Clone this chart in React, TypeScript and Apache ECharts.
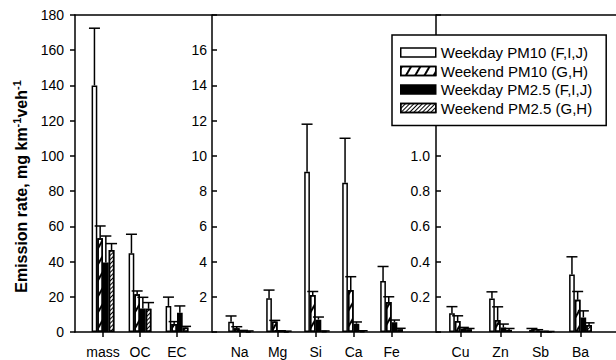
import React, { useEffect, useRef } from 'react';
import * as echarts from 'echarts';

// ---------- data ----------
const seriesNames = [
  'Weekday PM10 (F,I,J)',
  'Weekend PM10 (G,H)',
  'Weekday PM2.5 (F,I,J)',
  'Weekend PM2.5 (G,H)',
];

// Panel 1: bulk species
const catsBulk = ['mass', 'OC', 'EC'];
const bulkWdPm10 = [140, 44.7, 14.8];
const bulkWdPm10Err = [32.5, 10.8, 5.0];
const bulkWePm10 = [53.2, 21.5, 4.5];
const bulkWePm10Err = [7.0, 1.8, 1.4];
const bulkWdPm25 = [39.5, 13.4, 11.0];
const bulkWdPm25Err = [15.0, 6.3, 3.8];
const bulkWePm25 = [46.5, 13.2, 2.6];
const bulkWePm25Err = [3.7, 3.5, 0.6];

// Panel 2: crustal elements
const catsCrust = ['Na', 'Mg', 'Si', 'Ca', 'Fe'];
const crustWdPm10 = [0.58, 1.91, 9.1, 8.48, 2.9];
const crustWdPm10Err = [0.33, 0.47, 2.7, 2.52, 0.82];
const crustWePm10 = [0.22, 0.6, 2.1, 2.38, 1.7];
const crustWePm10Err = [0.08, 0.06, 0.2, 0.76, 0.3];
const crustWdPm25 = [0.06, 0.05, 0.7, 0.47, 0.55];
const crustWdPm25Err = [0.03, 0.02, 0.15, 0.1, 0.13];
const crustWePm25 = [0.04, 0.04, 0.05, 0.06, 0.15];
const crustWePm25Err = [0.02, 0.01, 0.01, 0.01, 0.06];

// Panel 3: trace metals
const catsTrace = ['Cu', 'Zn', 'Sb', 'Ba'];
const traceWdPm10 = [0.107, 0.19, 0.012, 0.327];
const traceWdPm10Err = [0.037, 0.038, 0.008, 0.1];
const traceWePm10 = [0.062, 0.068, 0.008, 0.183];
const traceWePm10Err = [0.03, 0.075, 0.005, 0.047];
const traceWdPm25 = [0.02, 0.025, 0.003, 0.083];
const traceWdPm25Err = [0.006, 0.02, 0.001, 0.037];
const traceWePm25 = [0.015, 0.012, 0.002, 0.04];
const traceWePm25Err = [0.005, 0.008, 0.001, 0.012];

// y-axis ranges
const bulkAxis = { min: 0, max: 180, interval: 20 };
const crustAxis = { min: 0, max: 18, interval: 2 };
const traceAxis = { min: 0, max: 1.8, interval: 0.2 };

// ---------- styles ----------
const FONT = "'Liberation Sans', Arial, Helvetica, sans-serif";
const BAR_W = 5.7;
const CAP = 5.5;
const LINE = { color: '#000', width: 1.5 };

const barStyles: any[] = [
  { color: '#fff', borderColor: '#000', borderWidth: 1.5 },
  {
    color: '#fff',
    borderColor: '#000',
    borderWidth: 1.5,
    decal: {
      symbol: 'rect',
      symbolSize: 1,
      dashArrayX: [1, 0],
      dashArrayY: [1.5, 6],
      rotation: -Math.PI / 3,
      color: '#000',
    },
  },
  { color: '#000', borderColor: '#000', borderWidth: 1.5 },
  {
    color: '#fff',
    borderColor: '#000',
    borderWidth: 1.5,
    decal: {
      symbol: 'rect',
      symbolSize: 1,
      dashArrayX: [1, 0],
      dashArrayY: [1, 1.8],
      rotation: -Math.PI / 4,
      color: '#000',
    },
  },
];

type Panel = {
  cats: string[];
  values: number[][];
  errors: number[][];
};

const panels: Panel[] = [
  {
    cats: catsBulk,
    values: [bulkWdPm10, bulkWePm10, bulkWdPm25, bulkWePm25],
    errors: [bulkWdPm10Err, bulkWePm10Err, bulkWdPm25Err, bulkWePm25Err],
  },
  {
    cats: catsCrust,
    values: [crustWdPm10, crustWePm10, crustWdPm25, crustWePm25],
    errors: [crustWdPm10Err, crustWePm10Err, crustWdPm25Err, crustWePm25Err],
  },
  {
    cats: catsTrace,
    values: [traceWdPm10, traceWePm10, traceWdPm25, traceWePm25],
    errors: [traceWdPm10Err, traceWePm10Err, traceWdPm25Err, traceWePm25Err],
  },
];

const gridBoxes = [
  { left: 84.5, width: 111 },
  { left: 220.6, width: 190 },
  { left: 440.5, width: 160 },
];
const yOffsets = [9.5, 8.6, 4.5];

function errorRender(params: any, api: any) {
  const cat = api.value(0);
  const s = api.value(1);
  const v = api.value(2);
  const e = api.value(3);
  const base = api.coord([cat, v]);
  const top = api.coord([cat, v + e]);
  const x = base[0] + (s - 1.5) * BAR_W;
  const st = { stroke: '#000', lineWidth: 1.5 };
  return {
    type: 'group',
    children: [
      { type: 'line', shape: { x1: x, y1: base[1], x2: x, y2: top[1] }, style: st },
      { type: 'line', shape: { x1: x - CAP, y1: top[1], x2: x + CAP, y2: top[1] }, style: st },
    ],
  };
}

function buildOption(): any {
  const grid: any[] = [{ left: 75, right: 0, top: 15, bottom: 28 }];
  gridBoxes.forEach((g) => grid.push({ left: g.left, width: g.width, top: 15, bottom: 28 }));

  const frameX = (position: string) => ({
    gridIndex: 0,
    type: 'value',
    min: 0,
    max: 1,
    position,
    axisLine: { show: true, lineStyle: LINE },
    axisTick: { show: false },
    axisLabel: { show: false },
    splitLine: { show: false },
  });

  const xAxis: any[] = [frameX('bottom'), frameX('top')];
  panels.forEach((p, i) => {
    xAxis.push({
      gridIndex: i + 1,
      type: 'category',
      data: p.cats,
      axisLine: { show: false },
      axisTick: { show: true, alignWithLabel: true, length: 5, lineStyle: LINE },
      axisLabel: { interval: 0, fontSize: 14, color: '#000', fontFamily: FONT, margin: 13 },
      splitLine: { show: false },
    });
  });

  const yAxis: any[] = [{ gridIndex: 0, type: 'value', show: false, min: 0, max: 1 }];
  yAxis.push({
    gridIndex: 1,
    type: 'value',
    ...bulkAxis,
    offset: yOffsets[0],
    axisLine: { show: true, lineStyle: LINE },
    axisTick: { show: true, length: 5, lineStyle: LINE },
    axisLabel: { fontSize: 14, color: '#000', fontFamily: FONT, margin: 11 },
    splitLine: { show: false },
    name: 'Emission rate, mg km{sup|-1}veh{sup|-1}',
    nameLocation: 'middle',
    nameGap: 44,
    nameTextStyle: {
      fontFamily: FONT,
      fontSize: 16,
      fontWeight: 'bold',
      color: '#000',
      lineHeight: 20,
      padding: [0, 26, 0, 0],
      rich: {
        sup: { fontFamily: FONT, fontSize: 11, fontWeight: 'bold', color: '#000', verticalAlign: 'top', lineHeight: 11 },
      },
    },
  });
  yAxis.push({
    gridIndex: 2,
    type: 'value',
    ...crustAxis,
    offset: yOffsets[1],
    axisLine: { show: true, lineStyle: LINE },
    axisTick: { show: true, inside: true, length: 5, lineStyle: LINE },
    axisLabel: {
      fontSize: 14,
      color: '#000',
      fontFamily: FONT,
      margin: 5,
      formatter: (v: number) => (v <= 0 || v >= crustAxis.max ? '' : String(v)),
    },
    splitLine: { show: false },
  });
  yAxis.push({
    gridIndex: 3,
    type: 'value',
    ...traceAxis,
    offset: yOffsets[2],
    axisLine: { show: true, lineStyle: LINE },
    axisTick: { show: true, inside: true, length: 5, lineStyle: LINE },
    axisLabel: {
      fontSize: 14,
      color: '#000',
      fontFamily: FONT,
      margin: 6,
      formatter: (v: number) => (v <= 0 || v > 1.05 ? '' : v.toFixed(1)),
    },
    splitLine: { show: false },
  });

  const series: any[] = [];
  panels.forEach((p, pi) => {
    const errData: any[] = [];
    p.values.forEach((vals, si) => {
      series.push({
        type: 'bar',
        name: seriesNames[si],
        xAxisIndex: pi + 2,
        yAxisIndex: pi + 1,
        data: vals,
        barWidth: BAR_W,
        barGap: '0%',
        itemStyle: barStyles[si],
        z: 2,
      });
      vals.forEach((v, ci) => errData.push([ci, si, v, p.errors[si][ci]]));
    });
    series.push({
      type: 'custom',
      name: 'err' + pi,
      xAxisIndex: pi + 2,
      yAxisIndex: pi + 1,
      data: errData,
      encode: { x: 0, y: 2 },
      renderItem: errorRender,
      z: 3,
      silent: true,
    });
  });

  return {
    animation: false,
    backgroundColor: '#fff',
    textStyle: { fontFamily: FONT },
    grid,
    xAxis,
    yAxis,
    legend: {
      data: seriesNames,
      orient: 'vertical',
      left: 392,
      top: 35,
      icon: 'rect',
      itemWidth: 35,
      itemHeight: 9,
      itemGap: 3.5,
      padding: [10, 14, 10, 8],
      backgroundColor: '#fff',
      borderColor: '#000',
      borderWidth: 1.5,
      selectedMode: false,
      z: 10,
      itemStyle: { borderColor: '#000', borderWidth: 1.5 },
      textStyle: { fontSize: 15, color: '#000', fontFamily: FONT },
    },
    series,
  };
}

export default function App() {
  const ref = useRef<HTMLDivElement>(null);
  useEffect(() => {
    if (!ref.current) return;
    const chart = echarts.init(ref.current, undefined, { renderer: 'svg' });
    chart.setOption(buildOption());
    return () => chart.dispose();
  }, []);
  return (
    <div
      ref={ref}
      style={{ position: 'fixed', left: 0, top: 0, width: 616, height: 360, background: '#fff' }}
    />
  );
}
